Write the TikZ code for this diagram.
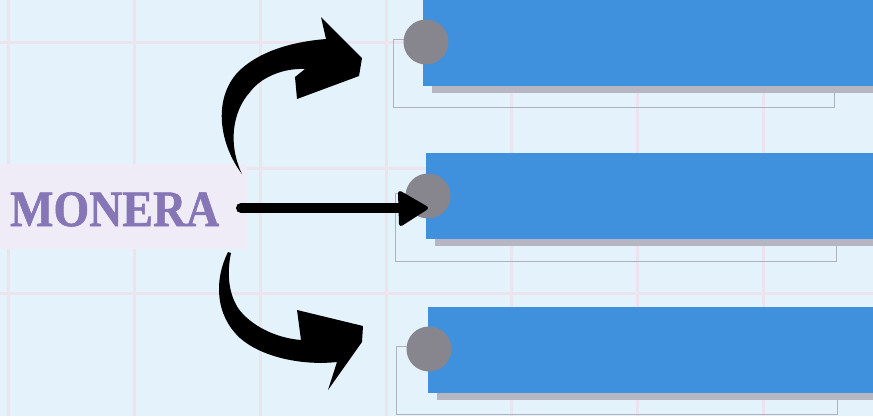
\documentclass[tikz,border=0pt]{standalone}
\usepackage{graphicx}
\usepackage{fontspec}
\newfontfamily\labfont[FakeBold=1.2]{Liberation Serif}
\definecolor{bgc}{HTML}{E4F2FC}
\definecolor{gridc}{HTML}{ECE4EC}
\definecolor{barc}{HTML}{3F90DD}
\definecolor{shadc}{HTML}{B5B6C2}
\definecolor{outc}{HTML}{B0B1BC}
\definecolor{dotc}{HTML}{87868F}
\definecolor{labbg}{HTML}{EFEBF7}
\definecolor{labtx}{HTML}{8676B6}
\tikzset{
  gridline/.style={draw=gridc, line width=3pt},
  outlinebox/.style={draw=outc, line width=1pt},
  barbox/.style={fill=barc},
  shadowbox/.style={fill=shadc},
  dot/.style={circle, fill=dotc, minimum size=45pt, inner sep=0pt},
  brush/.style={fill=black},
}
\begin{document}
\begin{tikzpicture}[x=1pt,y=-1pt]
\useasboundingbox (0,0) rectangle (873,416);
\fill[bgc] (0,0) rectangle (873,416);
% grid
\foreach \gx in {8,134,260,386,511,637,763} \draw[gridline] (\gx,0) -- (\gx,416);
\foreach \gy in {42,168,293} \draw[gridline] (0,\gy) -- (873,\gy);
% bars
\foreach \ox/\oy/\bx/\by/\cx/\cy/\nm in {393/39/423/0/426/42/a, 395/193/426/153/428/196/b, 396/346/428/307/429/349/c}{
  \draw[outlinebox] (\ox,\oy) rectangle (\ox+441,\oy+68);
  \fill[shadowbox] (\bx+9,\by+7) rectangle (875,\by+93);
  \fill[barbox] (\bx,\by) rectangle (875,\by+86);
  \node[dot] (dot\nm) at (\cx,\cy) {};
}
% label
\fill[labbg, rounded corners=4pt] (-5,164) rectangle (247,249);
\node[anchor=base west, inner sep=0pt, text=labtx] (monera) at (10,226)
  {\scalebox{0.9}[1]{\fontsize{51}{51}\labfont\bfseries MONERA}};
% top curved arrow
\fill[brush] (242,174) .. controls (220,145) and (212,100) .. (238,72)
  .. controls (258,52) and (290,42) .. (326,39) -- (321,17) -- (362,58)
  -- (359,76) -- (297,99) -- (295,77) -- (305,69)
  .. controls (285,68) and (262,76) .. (250,92)
  .. controls (232,112) and (228,145) .. (242,174) -- cycle;
% bottom curved arrow
\fill[brush] (228,252) .. controls (214,280) and (215,315) .. (240,338)
  .. controls (260,356) and (300,366) .. (337,362) -- (328,390) -- (362,342)
  -- (363,326) -- (297,310) -- (301,340)
  .. controls (275,338) and (250,325) .. (238,308)
  .. controls (228,292) and (227,272) .. (231,253) -- cycle;
% middle straight arrow
\coordinate (mstart) at (241,208);
\coordinate (mend) at (405,208);
\draw[line width=10pt, line cap=round] (mstart) -- (mend);
\filldraw[line width=4pt, line join=round] (400,193) -- (426,208) -- (401,224) -- cycle;
\end{tikzpicture}
\end{document}
